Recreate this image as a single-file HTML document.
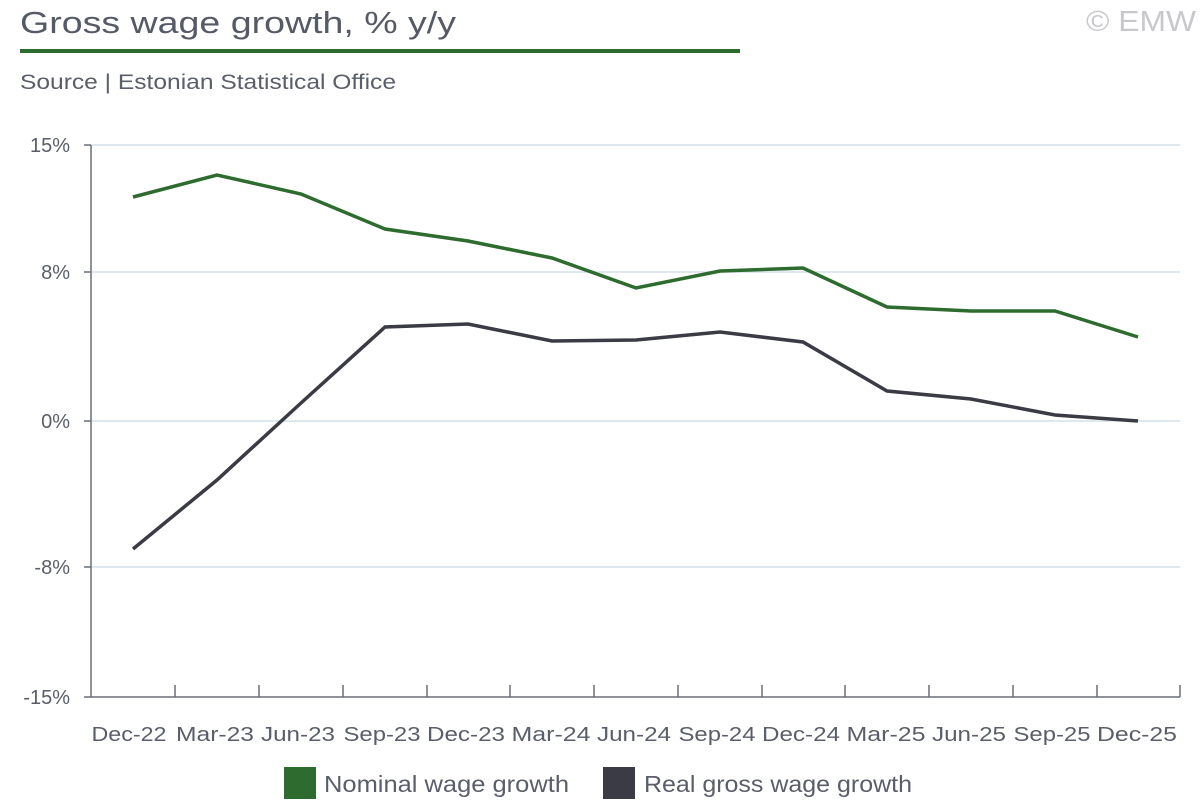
<!DOCTYPE html>
<html><head><meta charset="utf-8"><style>
body{margin:0;width:1200px;height:800px;background:#fff;overflow:hidden;font-family:"Liberation Sans",sans-serif}
</style></head><body>
<svg width="1200" height="800" xmlns="http://www.w3.org/2000/svg" font-family="Liberation Sans, sans-serif">
<text x="20" y="33" font-size="31" fill="#555a66" textLength="436" lengthAdjust="spacingAndGlyphs">Gross wage growth, % y/y</text>
<text x="1196" y="31" font-size="29" fill="#c8c8cc" text-anchor="end" textLength="110" lengthAdjust="spacingAndGlyphs">© EMW</text>
<rect x="20" y="49" width="720" height="4" fill="#2e6b2e"/>
<text x="20" y="89" font-size="21" fill="#5a5e6a" textLength="376" lengthAdjust="spacingAndGlyphs">Source | Estonian Statistical Office</text>
<g stroke="#d6e0ea" stroke-width="1.5">
<line x1="91" y1="145" x2="1180" y2="145"/>
<line x1="91" y1="272" x2="1180" y2="272"/>
<line x1="91" y1="421" x2="1180" y2="421"/>
<line x1="91" y1="567" x2="1180" y2="567"/>
</g>
<g stroke="#6a6e78" stroke-width="1.5">
<line x1="91" y1="145" x2="91" y2="697"/>
<line x1="91" y1="697" x2="1180" y2="697"/>
<line x1="84" y1="145" x2="91" y2="145"/><line x1="84" y1="272" x2="91" y2="272"/>
<line x1="84" y1="421" x2="91" y2="421"/><line x1="84" y1="567" x2="91" y2="567"/>
<line x1="84" y1="697" x2="91" y2="697"/>
<path d="M175 685V697M259 685V697M343 685V697M427 685V697M510 685V697M594 685V697M678 685V697M762 685V697M845 685V697M929 685V697M1013 685V697M1097 685V697M1180 685V697"/>
</g>
<g font-size="20" fill="#5a5e6a" text-anchor="end">
<text x="70" y="152">15%</text><text x="70" y="279">8%</text><text x="70" y="428">0%</text><text x="70" y="574">-8%</text><text x="70" y="704">-15%</text>
</g>
<g font-size="20" fill="#5a5e6a" text-anchor="middle" lengthAdjust="spacingAndGlyphs">
<text x="129" y="741" textLength="75" lengthAdjust="spacingAndGlyphs">Dec-22</text>
<text x="215" y="741" textLength="78" lengthAdjust="spacingAndGlyphs">Mar-23</text>
<text x="298" y="741" textLength="74" lengthAdjust="spacingAndGlyphs">Jun-23</text>
<text x="382" y="741" textLength="77" lengthAdjust="spacingAndGlyphs">Sep-23</text>
<text x="466" y="741" textLength="78" lengthAdjust="spacingAndGlyphs">Dec-23</text>
<text x="551" y="741" textLength="79" lengthAdjust="spacingAndGlyphs">Mar-24</text>
<text x="634" y="741" textLength="74" lengthAdjust="spacingAndGlyphs">Jun-24</text>
<text x="717" y="741" textLength="77" lengthAdjust="spacingAndGlyphs">Sep-24</text>
<text x="801" y="741" textLength="78" lengthAdjust="spacingAndGlyphs">Dec-24</text>
<text x="886" y="741" textLength="79" lengthAdjust="spacingAndGlyphs">Mar-25</text>
<text x="969" y="741" textLength="74" lengthAdjust="spacingAndGlyphs">Jun-25</text>
<text x="1052" y="741" textLength="77" lengthAdjust="spacingAndGlyphs">Sep-25</text>
<text x="1137" y="741" textLength="80" lengthAdjust="spacingAndGlyphs">Dec-25</text>
</g>
<polyline fill="none" stroke="#2e6b2e" stroke-width="3.5" points="133,197 217,175 301,194 385,229 468,241 552,258 636,288 720,271 803,268 887,307 971,311 1055,311 1138,337"/>
<polyline fill="none" stroke="#3a3b44" stroke-width="3.5" points="133,549 217,480 301,403 385,327 468,324 552,341 636,340 720,332 803,342 887,391 971,399 1055,415 1138,421"/>
<rect x="284" y="767" width="32" height="32" fill="#2e6b2e"/>
<text x="324" y="792" font-size="23" fill="#5a5e6a" textLength="245" lengthAdjust="spacingAndGlyphs">Nominal wage growth</text>
<rect x="603" y="767" width="32" height="32" fill="#3a3b44"/>
<text x="644" y="792" font-size="23" fill="#5a5e6a" textLength="268" lengthAdjust="spacingAndGlyphs">Real gross wage growth</text>
</svg>
</body></html>
